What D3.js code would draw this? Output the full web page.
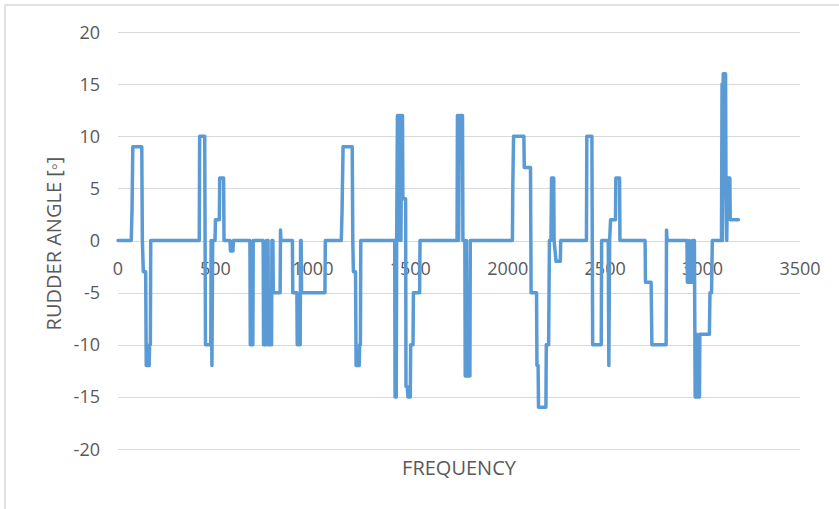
<!DOCTYPE html>
<html lang="en">
<head>
<meta charset="UTF-8">
<title>Rudder angle</title>
<script src="https://d3js.org/d3.v7.min.js"></script>
<style>
  body { margin: 0; background: #fff; }
  svg { display: block; font-family: 'Open Sans', sans-serif; }
  .tick-label { fill: #595959; font-size: 18px; }
  .axis-title { fill: #595959; font-size: 20px; }
</style>
</head>
<body>
<svg id="chart" width="839" height="509"></svg>
<script>
// frequency / rudder angle samples (step-wise signal)
const frequency = [
  0, 68, 72, 76, 122, 125, 130, 142, 145, 160, 162, 166, 168,
  417, 419, 445, 447, 449, 476, 478, 482, 486, 498, 500, 520, 522, 542, 544, 575, 577, 590, 592,
  677, 679, 692, 694, 745, 747, 760, 762, 770, 772, 788, 790, 795, 797, 832, 834, 836,
  895, 897, 918, 920, 935, 937, 940, 942, 1062, 1064,
  1146, 1150, 1155, 1202, 1205, 1208, 1219, 1222, 1238, 1240, 1244, 1246,
  1420, 1422, 1428, 1430, 1434, 1438, 1442, 1448, 1452, 1456, 1460, 1462, 1476, 1478, 1484, 1488, 1500, 1502, 1514, 1516, 1548, 1550,
  1740, 1742, 1748, 1752, 1768, 1770, 1780, 1782, 1788, 1792, 1806, 1808,
  2024, 2026, 2030, 2083, 2085, 2117, 2120, 2148, 2150, 2156, 2158, 2196, 2198, 2210, 2214, 2222, 2225, 2236, 2238, 2248, 2270, 2272,
  2404, 2406, 2432, 2436, 2480, 2482, 2516, 2519, 2523, 2528, 2553, 2555, 2574, 2576,
  2705, 2707, 2736, 2740, 2813, 2815, 2818,
  2920, 2922, 2930, 2932, 2936, 2946, 2948, 2958, 2962, 2968, 2970, 2974, 2984, 2986, 3035, 3038, 3046, 3050,
  3097, 3100, 3102, 3106, 3118, 3120, 3124, 3128, 3140, 3142, 3184
];
const rudderAngle = [
  0, 0, 3, 9, 9, 0, -3, -3, -12, -12, -10, -10, 0,
  0, 10, 10, 0, -10, -10, 0, -12, 0, 0, 2, 2, 6, 6, 0, 0, -1, -1, 0,
  0, -10, -10, 0, 0, -10, -10, 0, 0, -10, -10, 0, 0, -5, -5, 1, 0,
  0, -5, -5, -10, -10, 0, 0, -5, -5, 0,
  0, 3, 9, 9, 0, -3, -3, -12, -12, -10, -10, 0,
  0, -15, -15, 0, 12, 0, 12, 12, 0, 12, 12, 4, 4, -14, -14, -15, -15, -10, -10, -5, -5, 0,
  0, 12, 0, 12, 12, 0, 0, -13, 0, -13, -13, 0,
  0, 5, 10, 10, 7, 7, -5, -5, -12, -12, -16, -16, -10, -10, 0, 0, 6, 6, 0, -2, -2, 0,
  0, 10, 10, -10, -10, 0, 0, -12, 0, 2, 2, 6, 6, 0,
  0, -4, -4, -10, -10, 1, 0,
  0, -4, -4, 0, -4, -4, 0, 0, -15, -15, -9, -15, -15, -9, -9, -5, -5, 0,
  0, 15, 0, 16, 16, 6, 0, 6, 6, 2, 2
];
const xTicks = [0, 500, 1000, 1500, 2000, 2500, 3000, 3500];
const yTicks = [-20, -15, -10, -5, 0, 5, 10, 15, 20];

const svg = d3.select('#chart');

// chart frame
svg.append('rect')
  .attr('x', 5).attr('y', 5)
  .attr('width', 900).attr('height', 600)
  .attr('fill', '#fff')
  .attr('stroke', '#d9d9d9')
  .attr('stroke-width', 1.5);

const x = d3.scaleLinear().domain([0, 3500]).range([118, 800]);
const y = d3.scaleLinear().domain([-20, 20]).range([449, 32]);

// gridlines
svg.append('g')
  .selectAll('line')
  .data(yTicks)
  .join('line')
  .attr('x1', x(0)).attr('x2', x(3500))
  .attr('y1', d => Math.round(y(d)) + 0.5)
  .attr('y2', d => Math.round(y(d)) + 0.5)
  .attr('stroke', '#d9d9d9')
  .attr('stroke-width', 1);

// y tick labels
svg.append('g')
  .selectAll('text')
  .data(yTicks)
  .join('text')
  .attr('class', 'tick-label')
  .attr('x', 100)
  .attr('y', d => y(d) + 6.5)
  .attr('text-anchor', 'end')
  .text(d => d);

// x tick labels sit under the zero line
svg.append('g')
  .selectAll('text')
  .data(xTicks)
  .join('text')
  .attr('class', 'tick-label')
  .attr('x', d => x(d))
  .attr('y', y(0) + 34)
  .attr('text-anchor', 'middle')
  .text(d => d);

// axis titles
svg.append('text')
  .attr('class', 'axis-title')
  .attr('x', (x(0) + x(3500)) / 2)
  .attr('y', 475)
  .attr('text-anchor', 'middle')
  .text('FREQUENCY');

svg.append('text')
  .attr('class', 'axis-title')
  .attr('transform', `translate(61,${(y(20) + y(-20)) / 2 + 3}) rotate(-90)`)
  .attr('text-anchor', 'middle')
  .text('RUDDER ANGLE [◦]');

// the series
const points = frequency.map((f, i) => [f, rudderAngle[i]]);
const line = d3.line().x(d => x(d[0])).y(d => y(d[1]));

svg.append('path')
  .datum(points)
  .attr('d', line)
  .attr('fill', 'none')
  .attr('stroke', '#5b9bd5')
  .attr('stroke-width', 3.5)
  .attr('stroke-linejoin', 'round')
  .attr('stroke-linecap', 'round');
</script>
</body>
</html>
